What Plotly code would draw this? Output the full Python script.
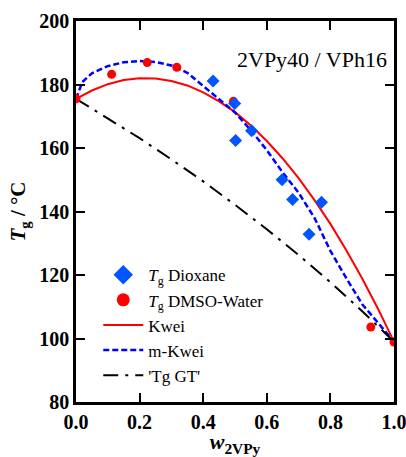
import plotly.graph_objects as go

# Measured data
dmso_w = [0.0, 0.112, 0.224, 0.317, 0.495, 0.927, 1.0]
dmso_tg = [175.5, 183.2, 186.9, 185.4, 174.7, 103.6, 98.9]

diox_w = [0.431, 0.499, 0.502, 0.552, 0.648, 0.681, 0.733, 0.772]
diox_tg = [181.1, 174.0, 162.4, 165.4, 150.0, 143.8, 132.8, 142.9]

# Curves
kwei_w = [0.0, 0.05, 0.1, 0.15, 0.2, 0.25, 0.3, 0.35, 0.4, 0.45, 0.5,
          0.55, 0.6, 0.65, 0.7, 0.75, 0.8, 0.85, 0.9, 0.95, 1.0]
kwei_tg = [175.5, 178.1, 180.1, 181.4, 182.0, 181.9, 181.1, 179.7, 177.5, 174.7, 171.3,
           167.1, 162.2, 156.7, 150.5, 143.6, 136.1, 127.8, 118.9, 109.3, 99.0]

mkwei_w = [0.0, 0.02, 0.05, 0.1, 0.15, 0.2, 0.25, 0.3, 0.35, 0.4, 0.45, 0.5,
           0.55, 0.6, 0.65, 0.7, 0.75, 0.8, 0.85, 0.9, 0.95, 1.0]
mkwei_tg = [175.5, 180.8, 183.5, 185.8, 187.0, 187.4, 187.1, 186.0, 183.7, 179.6, 175.4, 171.2,
            165.6, 159.3, 152.3, 145.9, 138.0, 127.6, 119.0, 110.8, 104.9, 99.0]

gt_w = [0.0, 0.1, 0.2, 0.3, 0.4, 0.5, 0.6, 0.7, 0.8, 0.9, 1.0]
gt_tg = [175.5, 169.4, 163.1, 156.4, 149.5, 142.1, 134.4, 126.3, 117.7, 108.6, 99.0]

x_ticks = [0.0, 0.2, 0.4, 0.6, 0.8, 1.0]
y_ticks = [80, 100, 120, 140, 160, 180, 200]

FONT = "Liberation Serif, Times New Roman, Times, serif"
RED = "#ff0000"
BLUE_M = "#0055ff"
BLUE_L = "#0000ff"

fig = go.Figure()

# curves
fig.add_trace(go.Scatter(x=kwei_w, y=kwei_tg, mode="lines", line=dict(color=RED, width=2),
                         showlegend=False))
fig.add_trace(go.Scatter(x=mkwei_w, y=mkwei_tg, mode="lines",
                         line=dict(color=BLUE_L, width=2.5, dash="6px,3px"), showlegend=False))
fig.add_trace(go.Scatter(x=gt_w, y=gt_tg, mode="lines",
                         line=dict(color="black", width=2, dash="15px,7px,3px,7px"), showlegend=False))
# markers
fig.add_trace(go.Scatter(x=dmso_w, y=dmso_tg, mode="markers",
                         marker=dict(symbol="circle", size=9, color=RED), showlegend=False))
fig.add_trace(go.Scatter(x=diox_w, y=diox_tg, mode="markers",
                         marker=dict(symbol="diamond", size=10, color=BLUE_M), showlegend=False))

# legend-only entries
fig.add_trace(go.Scatter(x=[None], y=[None], mode="markers", name="<i>T</i><sub>g</sub> Dioxane",
                         marker=dict(symbol="diamond", size=15, color=BLUE_M), legendgroup="a"))
fig.add_trace(go.Scatter(x=[None], y=[None], mode="markers", name="<i>T</i><sub>g</sub> DMSO-Water",
                         marker=dict(symbol="circle", size=13, color=RED), legendgroup="b"))
fig.add_trace(go.Scatter(x=[None], y=[None], mode="lines", name="Kwei",
                         line=dict(color=RED, width=2), legendgroup="c"))
fig.add_trace(go.Scatter(x=[None], y=[None], mode="lines", name="m-Kwei",
                         line=dict(color=BLUE_L, width=2.5, dash="6px,3px"), legendgroup="d"))
fig.add_trace(go.Scatter(x=[None], y=[None], mode="lines", name="'Tg GT'",
                         line=dict(color="black", width=2, dash="15px,7px,3px,7px"), legendgroup="e"))

axis_common = dict(
    showline=True, linecolor="black", linewidth=2.5, mirror="ticks",
    ticks="inside", ticklen=9, tickwidth=2, tickcolor="black",
    showgrid=False, zeroline=False, automargin=False, ticklabeloverflow="allow",
    tickfont=dict(family=FONT, size=20, color="black"),
)

fig.update_xaxes(range=[0, 1], tickvals=x_ticks,
                 ticktext=["<b>%.1f</b>" % v for v in x_ticks],
                 title=dict(text="<b><i>w</i><sub>2VPy</sub></b>",
                            font=dict(family=FONT, size=22, color="black"), standoff=6),
                 **axis_common)
fig.update_yaxes(range=[80, 200], tickvals=y_ticks,
                 ticktext=["<b>%d</b>" % v for v in y_ticks],
                 title=dict(text="<b><i>T</i><sub>g</sub> / °C</b>",
                            font=dict(family=FONT, size=21, color="black"), standoff=8),
                 **axis_common)

fig.add_annotation(text="2VPy40 / VPh16", xref="paper", yref="paper",
                   x=0.985, y=0.937, xanchor="right", yanchor="top", showarrow=False,
                   font=dict(family=FONT, size=22, color="black"))

fig.update_layout(
    width=406, height=457,
    margin=dict(l=76, r=12, t=21, b=55),
    paper_bgcolor="white", plot_bgcolor="white",
    font=dict(family=FONT, color="black"),
    legend=dict(x=0.07, y=0.38, xanchor="left", yanchor="top",
                bgcolor="rgba(0,0,0,0)", font=dict(family=FONT, size=17, color="black"),
                tracegroupgap=0, itemwidth=40),
)

fig.write_html("out.html")
